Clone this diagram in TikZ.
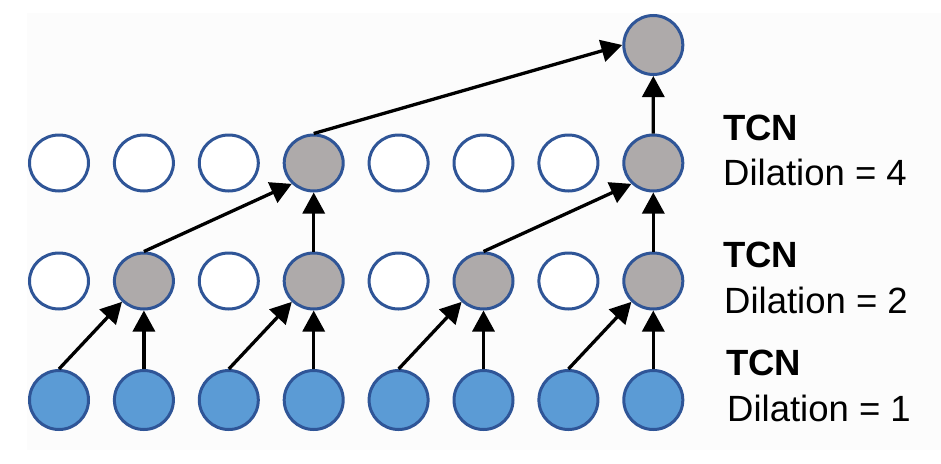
\documentclass[tikz,border=0pt]{standalone}
\usepackage{fontspec}
\setmainfont{Liberation Sans}
\usetikzlibrary{arrows.meta,shapes.geometric}
\definecolor{ringblue}{HTML}{2F5597}
\definecolor{inblue}{HTML}{5B9BD5}
\definecolor{cellgray}{HTML}{AEAAAA}
\tikzset{
  cell/.style={ellipse,draw=ringblue,line width=3pt,minimum width=59pt,minimum height=56pt,inner sep=0pt},
  incell/.style={cell,fill=inblue,minimum height=59pt},
  hidcell/.style={cell,fill=white},
  actcell/.style={cell,fill=cellgray},
  topcell/.style={cell,fill=cellgray,minimum height=59pt},
  link/.style={line width=3.3pt,-{Triangle[length=21pt,width=22pt]}},
  lbl/.style={anchor=base west,inner sep=0pt,font=\fontsize{36.5}{40}\selectfont},
}
\begin{document}
\begin{tikzpicture}[x=1pt,y=-1pt]
\useasboundingbox (0,0) rectangle (941,463);
\fill[white!98.8!black] (27,13) rectangle (941,450);
% bottom row
\foreach \i in {1,...,8}{
  \node[incell] (b\i) at ({59+84.9*(\i-1)},400) {};
}
% row 2
\foreach \i/\s in {1/hidcell,2/actcell,3/hidcell,4/actcell,5/hidcell,6/actcell,7/hidcell,8/actcell}{
  \node[\s] (m\i) at ({59+84.9*(\i-1)},281) {};
}
% row 3
\foreach \i/\s in {1/hidcell,2/hidcell,3/hidcell,4/actcell,5/hidcell,6/hidcell,7/hidcell,8/actcell}{
  \node[\s] (t\i) at ({59+84.9*(\i-1)},163) {};
}
% top
\node[topcell] (o) at (653.3,45) {};
% links bottom -> row 2
\foreach \a/\b in {1/2,3/4,5/6,7/8}{
  \draw[link] (b\a.north) -- (m\b.south west);
  \draw[link] (b\b.north) -- (m\b.south);
}
% row 2 -> row 3
\draw[link] (m2.north) -- (t4.south west);
\draw[link] (m4.north) -- (t4.south);
\draw[link] (m6.north) -- (t8.south west);
\draw[link] (m8.north) -- (t8.south);
% row 3 -> top
\draw[link] (t4.north) -- (o.west);
\draw[link] (t8.north) -- (o.south);
% labels
\node[lbl,font=\fontsize{36.5}{40}\selectfont\bfseries] (l4a) at (723,140) {TCN};
\node[lbl] (l4b) at (723,185) {Dilation = 4};
\node[lbl,font=\fontsize{36.5}{40}\selectfont\bfseries] (l2a) at (723,267) {TCN};
\node[lbl] (l2b) at (724,313) {Dilation = 2};
\node[lbl,font=\fontsize{36.5}{40}\selectfont\bfseries] (l1a) at (726,375) {TCN};
\node[lbl] (l1b) at (727,421) {Dilation = 1};
\end{tikzpicture}
\end{document}
